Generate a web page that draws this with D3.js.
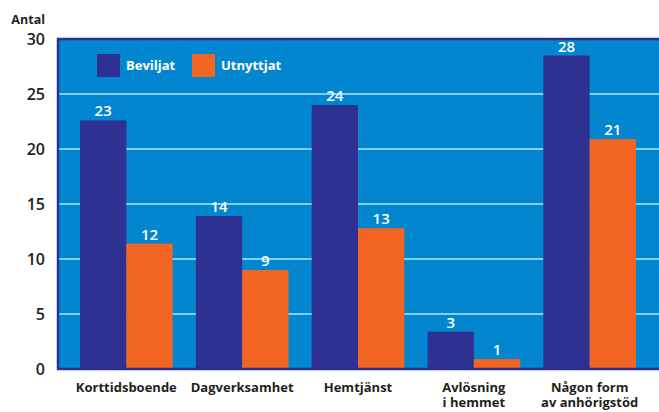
<!DOCTYPE html>
<html>
<head>
<meta charset="utf-8">
<script src="https://cdn.jsdelivr.net/npm/d3@7"></script>
<style>
  body { margin: 0; background: #fff; }
  text { font-family: "Open Sans", "Liberation Sans", sans-serif; }
</style>
</head>
<body>
<div class="chart_container"></div>
<script>
var categories = [["Korttidsboende"], ["Dagverksamhet"], ["Hemtjänst"], ["Avlösning", "i hemmet"], ["Någon form", "av anhörigstöd"]]
var seriesNames = ["Beviljat", "Utnyttjat"]
var beviljat = [22.6, 13.9, 24.0, 3.4, 28.5]
var utnyttjat = [11.4, 9.0, 12.8, 0.9, 20.9]
var beviljatLabels = [23, 14, 24, 3, 28]
var utnyttjatLabels = [12, 9, 13, 1, 21]
var yTicks = [0, 5, 10, 15, 20, 25, 30]

var width = 659
var height = 412
var colors = ["#2e3192", "#f26522"]

var svg = d3.select(".chart_container").append("svg")
            .attr("width", width)
            .attr("height", height);

var plotLeft = 58, plotRight = 660, plotTop = 39, plotBottom = 369

var scaleY = d3.scaleLinear()
               .domain([0, 30])
               .range([plotBottom, plotTop]);

var scaleX = d3.scaleBand()
               .domain(d3.range(categories.length))
               .range([plotLeft, plotRight - 2])
               .paddingInner(0.2)
               .paddingOuter(0.19);

var scaleSeries = d3.scaleBand()
                    .domain([0, 1])
                    .range([0, scaleX.bandwidth()]);

// background
svg.append("rect")
   .attr("x", plotLeft)
   .attr("y", plotTop)
   .attr("width", plotRight - plotLeft)
   .attr("height", plotBottom - plotTop)
   .style("fill", "#0286cf");

// grid lines
svg.append("g")
   .selectAll("line")
   .data(yTicks.filter(function(t) { return t > 0 && t < 30; }))
   .enter()
   .append("line")
   .attr("x1", plotLeft)
   .attr("x2", plotRight)
   .attr("y1", function(d) { return scaleY(d); })
   .attr("y2", function(d) { return scaleY(d); })
   .style("stroke", "#7fd0f5")
   .style("stroke-width", 2);

var series = [beviljat, utnyttjat]
var labels = [beviljatLabels, utnyttjatLabels]

series.forEach(function(values, s) {
  var g = svg.append("g");
  g.selectAll("rect")
   .data(values)
   .enter()
   .append("rect")
   .attr("x", function(d, i) { return scaleX(i) + scaleSeries(s); })
   .attr("y", function(d) { return scaleY(d); })
   .attr("width", scaleSeries.bandwidth())
   .attr("height", function(d) { return scaleY(0) - scaleY(d); })
   .style("fill", colors[s]);

  g.selectAll("text")
   .data(values)
   .enter()
   .append("text")
   .attr("x", function(d, i) { return scaleX(i) + scaleSeries(s) + scaleSeries.bandwidth() / 2; })
   .attr("y", function(d) { return scaleY(d) - 4; })
   .style("text-anchor", "middle")
   .style("fill", "#fff")
   .style("font-size", "15px")
   .style("font-weight", "600")
   .text(function(d, i) { return labels[s][i]; });
});

// frame
svg.append("path")
   .attr("d", "M" + plotRight + "," + plotTop + "H" + plotLeft + "V" + plotBottom + "H" + plotRight)
   .style("fill", "none")
   .style("stroke", "#2e3192")
   .style("stroke-width", 2.5);

// y axis labels
var axisLeft = d3.axisLeft(scaleY)
                 .tickValues(yTicks)
                 .tickSize(0)
                 .tickPadding(13);

var yAxis = svg.append("g")
   .attr("transform", "translate(" + plotLeft + ",0)")
   .call(axisLeft);
yAxis.select(".domain").remove();
yAxis.selectAll("text")
     .style("font-family", "'Open Sans', sans-serif")
     .style("font-size", "16px")
     .style("font-weight", "600")
     .style("fill", "#231f20");

svg.append("text")
   .attr("x", 45)
   .attr("y", 24)
   .style("text-anchor", "end")
   .style("font-size", "12.5px")
   .style("font-weight", "700")
   .style("fill", "#231f20")
   .text("Antal");

// x labels
var xl = svg.append("g")
   .selectAll("text")
   .data(categories)
   .enter()
   .append("text")
   .attr("x", function(d, i) { return scaleX(i) + scaleX.bandwidth() / 2; })
   .attr("y", 392)
   .style("text-anchor", "middle")
   .style("font-size", "13px")
   .style("font-weight", "700")
   .style("fill", "#231f20");

xl.selectAll("tspan")
  .data(function(d) { return d; })
  .enter()
  .append("tspan")
  .attr("x", function() { return d3.select(this.parentNode).attr("x"); })
  .attr("dy", function(d, j) { return j === 0 ? 0 : 15; })
  .text(function(d) { return d; });

// legend
var legend = svg.append("g")
   .selectAll("g")
   .data(seriesNames)
   .enter()
   .append("g")
   .attr("transform", function(d, i) { return "translate(" + (97 + i * 95) + ",54)"; });

legend.append("rect")
      .attr("width", 23)
      .attr("height", 23)
      .style("fill", function(d, i) { return colors[i]; });

legend.append("text")
      .attr("x", 29)
      .attr("y", 16)
      .style("fill", "#fff")
      .style("font-size", "13px")
      .style("font-weight", "700")
      .text(function(d) { return d; });
</script>
</body>
</html>
